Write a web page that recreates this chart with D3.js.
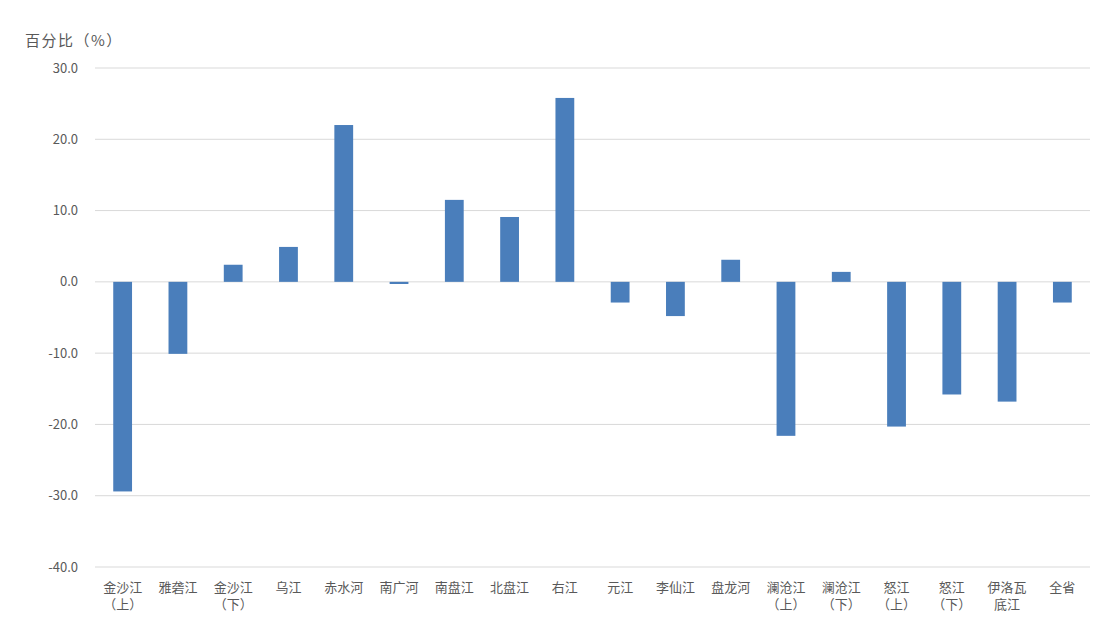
<!DOCTYPE html>
<html><head><meta charset="utf-8">
<script src="https://cdn.jsdelivr.net/npm/d3@7"></script>
<style>body{margin:0;background:#fff;} text{font-family:"Noto Sans CJK SC","DejaVu Sans",sans-serif;}</style>
</head><body><svg id="c" width="1117" height="618"></svg>
<script>
const categories = ["金沙江\n（上）","雅砻江","金沙江\n（下）","乌江","赤水河","南广河","南盘江","北盘江","右江","元江","李仙江","盘龙河","澜沧江\n（上）","澜沧江\n（下）","怒江\n（上）","怒江\n（下）","伊洛瓦\n底江","全省"];
const values = [-29.4,-10.1,2.4,4.9,22.0,-0.3,11.5,9.1,25.8,-2.9,-4.8,3.1,-21.6,1.4,-20.3,-15.8,-16.8,-2.9];
const yTicks = [30,20,10,0,-10,-20,-30,-40];
const yTitle = "百分比（%）";

(function(){
const svg = d3.select("#c");
const L = 95, R = 1090, T = 68, B = 567;
const x = d3.scaleBand().domain(d3.range(categories.length)).range([L, R]).paddingInner(0.66).paddingOuter(0.33);
const y = d3.scaleLinear().domain([-40,30]).range([B, T]);

svg.append("g").selectAll("line").data(yTicks).join("line")
  .attr("x1", L).attr("x2", R)
  .attr("y1", d=>y(d)).attr("y2", d=>y(d))
  .attr("stroke", "#d9d9d9").attr("stroke-width", 1);

svg.append("g").selectAll("text").data(yTicks).join("text")
  .attr("x", 78).attr("y", d=>y(d)+4.5).attr("text-anchor","end")
  .attr("font-size", 13).attr("fill", "#595959")
  .text(d=>d.toFixed(1));

svg.append("text").attr("x", 25).attr("y", 46).attr("font-size", 15).attr("letter-spacing", 1.5).attr("fill","#595959").text(yTitle);

svg.append("g").selectAll("rect").data(values).join("rect")
  .attr("x", (d,i)=>x(i)).attr("width", x.bandwidth())
  .attr("y", d=>y(Math.max(0,d))).attr("height", d=>Math.abs(y(d)-y(0)))
  .attr("fill", "#4a7ebb");

const lab = svg.append("g").selectAll("text").data(categories).join("text")
  .attr("text-anchor","middle").attr("font-size", 13).attr("fill","#595959");
lab.each(function(d,i){
  const t = d3.select(this);
  d.split("\n").forEach((s,k)=>{
    t.append("tspan").attr("x", x(i)+x.bandwidth()/2).attr("y", 592 + k*17).text(s);
  });
});
})();
</script></body></html>
